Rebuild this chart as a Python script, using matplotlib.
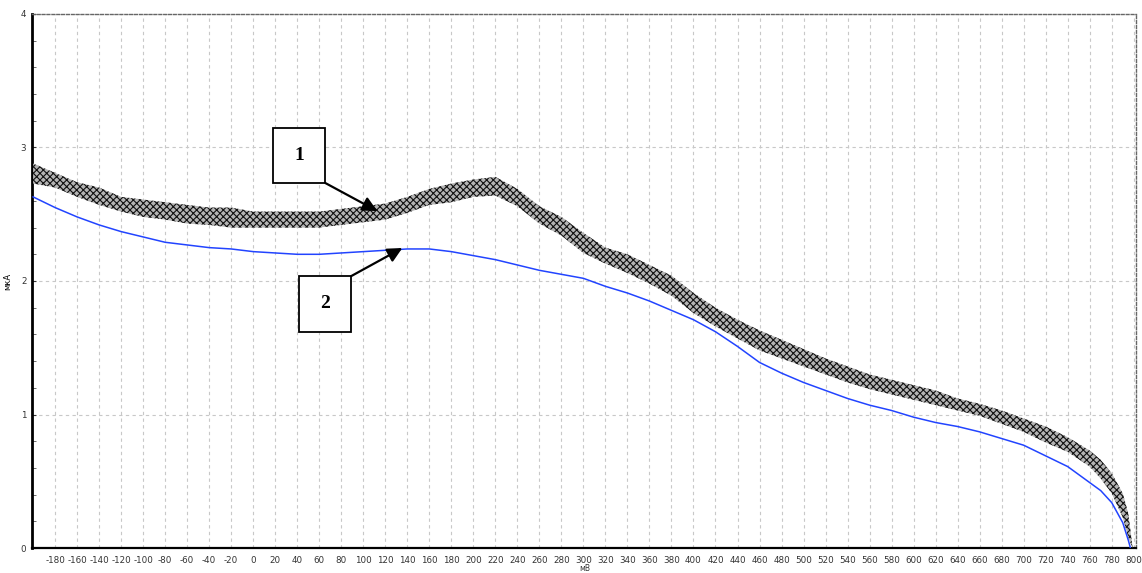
import numpy as np
import matplotlib
matplotlib.use("Agg")
import matplotlib.pyplot as plt
from matplotlib.patches import Rectangle

# curve 1 (black, rippled) - lower / upper edge of the ripple band
x_1 = [-200, -180, -160, -140, -120, -100, -80, -60, -40, -20, 0, 20, 40, 60, 80, 100,
       120, 140, 160, 180, 200, 220, 240, 260, 280, 300, 320, 340, 360, 380, 400, 420,
       440, 460, 480, 500, 520, 540, 560, 580, 600, 620, 640, 660, 680, 700, 720, 740,
       760, 770, 780, 790, 795, 799]
low_1 = [2.73, 2.70, 2.63, 2.57, 2.52, 2.48, 2.46, 2.43, 2.42, 2.40, 2.40, 2.40, 2.40, 2.40,
         2.42, 2.44, 2.46, 2.51, 2.57, 2.59, 2.63, 2.64, 2.56, 2.43, 2.34, 2.21, 2.13, 2.06,
         1.98, 1.89, 1.76, 1.66, 1.57, 1.48, 1.42, 1.36, 1.30, 1.24, 1.19, 1.15, 1.11, 1.07,
         1.03, 0.99, 0.93, 0.87, 0.79, 0.72, 0.61, 0.52, 0.41, 0.23, 0.08, 0.0]
up_1 = [2.88, 2.81, 2.74, 2.70, 2.63, 2.61, 2.59, 2.57, 2.55, 2.55, 2.52, 2.52, 2.52, 2.52,
        2.54, 2.56, 2.58, 2.63, 2.69, 2.73, 2.76, 2.78, 2.69, 2.56, 2.48, 2.36, 2.25, 2.20,
        2.12, 2.04, 1.91, 1.80, 1.71, 1.63, 1.56, 1.49, 1.42, 1.36, 1.30, 1.26, 1.22, 1.18,
        1.12, 1.08, 1.03, 0.97, 0.91, 0.83, 0.73, 0.66, 0.56, 0.41, 0.26, 0.0]

# curve 2 (blue)
x_2 = [-200, -180, -160, -140, -120, -100, -80, -60, -40, -20, 0, 20, 40, 60, 80, 100,
       120, 140, 160, 180, 200, 220, 240, 260, 280, 300, 320, 340, 360, 380, 400, 420,
       440, 460, 480, 500, 520, 540, 560, 580, 600, 620, 640, 660, 680, 700, 720, 740,
       760, 770, 780, 790, 795, 797]
y_2 = [2.63, 2.55, 2.48, 2.42, 2.37, 2.33, 2.29, 2.27, 2.25, 2.24, 2.22, 2.21, 2.20, 2.20,
       2.21, 2.22, 2.23, 2.24, 2.24, 2.22, 2.19, 2.16, 2.12, 2.08, 2.05, 2.02, 1.96, 1.91,
       1.85, 1.78, 1.71, 1.62, 1.51, 1.39, 1.31, 1.24, 1.18, 1.12, 1.07, 1.03, 0.98, 0.94,
       0.91, 0.87, 0.82, 0.77, 0.69, 0.61, 0.49, 0.43, 0.34, 0.19, 0.06, 0.0]

x_ticks = list(range(-180, 801, 20))
y_ticks = [0, 1, 2, 3, 4]

plt.rcParams["axes.unicode_minus"] = False
plt.rcParams["hatch.linewidth"] = 0.8
plt.rcParams["hatch.color"] = "#111111"

fig = plt.figure(figsize=(11.42, 5.73), dpi=100)
ax = fig.add_axes([0.028, 0.0436, 0.9667, 0.932])

ax.fill_between(x_1, low_1, up_1, facecolor="#b4b4b4", edgecolor="#111111",
                hatch="xxxxx", linewidth=0, zorder=3)
ax.plot(x_2, y_2, color="#2244ff", lw=1.1, zorder=4)

ax.set_xlim(-201, 802)
ax.set_ylim(0, 4)
ax.set_xticks(x_ticks)
ax.set_yticks(y_ticks)
ax.set_yticks(np.arange(0, 4.01, 0.2), minor=True)
ax.tick_params(axis="both", labelsize=6.3, colors="#333333", length=0, pad=6)
ax.tick_params(axis="y", which="minor", direction="in", length=3, color="#555555")
ax.tick_params(axis="y", which="major", direction="in", length=3, pad=4)

ax.grid(True, axis="x", color="#c8c8c8", ls=(0, (3, 3)), lw=0.8)
ax.grid(True, axis="y", which="major", color="#c8c8c8", ls=(0, (3, 3)), lw=0.8)

for s in ["top", "right"]:
    ax.spines[s].set_linestyle((0, (2, 1.5)))
    ax.spines[s].set_color("#666666")
    ax.spines[s].set_linewidth(1.0)
ax.spines["left"].set_linewidth(2.0)
ax.spines["left"].set_color("black")
ax.spines["bottom"].set_linewidth(1.6)
ax.spines["bottom"].set_color("black")

ax.set_ylabel("мкА", fontsize=6, labelpad=6)
fig.text(0.512, 0.0, "мВ", fontsize=5.5, ha="center", va="bottom", color="#333333")

# numbered callout boxes with arrows
ax.add_patch(Rectangle((18.2, 2.734), 47.3, 0.412, facecolor="white",
                       edgecolor="black", lw=1.3, zorder=6))
ax.text(41.8, 2.94, "1", fontsize=14, fontweight="bold", family="Liberation Serif",
        ha="center", va="center", zorder=7)
ax.annotate("", xy=(112.7, 2.524), xytext=(65.5, 2.734), zorder=7,
            arrowprops=dict(arrowstyle="-|>", color="black", lw=1.6, mutation_scale=22,
                            shrinkA=0, shrinkB=0))

ax.add_patch(Rectangle((41.8, 1.618), 47.3, 0.419, facecolor="white",
                       edgecolor="black", lw=1.3, zorder=6))
ax.text(65.5, 1.83, "2", fontsize=14, fontweight="bold", family="Liberation Serif",
        ha="center", va="center", zorder=7)
ax.annotate("", xy=(135.5, 2.247), xytext=(89.1, 2.037), zorder=7,
            arrowprops=dict(arrowstyle="-|>", color="black", lw=1.6, mutation_scale=22,
                            shrinkA=0, shrinkB=0))

fig.savefig("out.png", dpi=100)
